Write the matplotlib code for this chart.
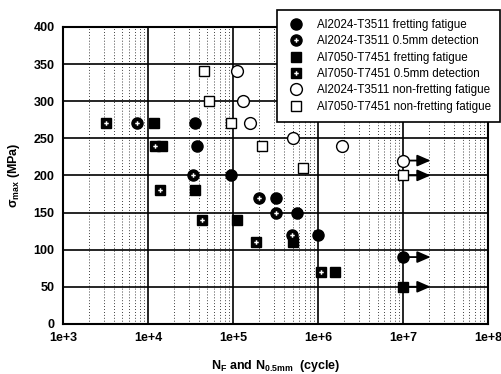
import numpy as np
import matplotlib
matplotlib.use("Agg")
import matplotlib.pyplot as plt
from matplotlib.legend_handler import HandlerTuple
from matplotlib.ticker import LogLocator, FixedLocator

plt.rcParams["font.family"] = ["Liberation Sans", "DejaVu Sans"]
plt.rcParams["mathtext.fontset"] = "custom"
plt.rcParams["mathtext.bf"] = "Liberation Sans:bold"
plt.rcParams["mathtext.rm"] = "Liberation Sans:bold"
plt.rcParams["mathtext.it"] = "Liberation Sans:bold"
plt.rcParams["mathtext.default"] = "bf"

# ----------------------------------------------------------------------------
# data (cycles, MPa)
# ----------------------------------------------------------------------------
al2024_ff_N = [3.6e4, 3.8e4, 9.5e4, 3.2e5, 5.7e5, 1.0e6, 1.0e7]
al2024_ff_S = [270, 240, 200, 170, 150, 120, 90]
al2024_det_N = [7.4e3, 3.4e4, 2.0e5, 3.2e5, 4.9e5]
al2024_det_S = [270, 200, 170, 150, 120]
al7050_ff_N = [1.17e4, 1.45e4, 3.6e4, 1.1e5, 5.0e5, 1.6e6, 1.0e7]
al7050_ff_S = [270, 240, 180, 140, 110, 70, 50]
al7050_det_N = [3.2e3, 1.2e4, 1.38e4, 4.3e4, 1.85e5, 1.07e6]
al7050_det_S = [270, 240, 180, 140, 110, 70]
al2024_nf_N = [1.1e5, 1.3e5, 1.56e5, 5.0e5, 1.9e6, 1.0e7]
al2024_nf_S = [340, 300, 270, 250, 240, 220]
al7050_nf_N = [4.6e4, 5.2e4, 9.4e4, 2.2e5, 6.6e5, 1.0e7]
al7050_nf_S = [340, 300, 270, 240, 210, 200]

# run-outs (arrows)
runout_N = 1.0e7
runout_end_N = 2.1e7
runout_S = [220, 200, 90, 50]

labels = ["Al2024-T3511 fretting fatigue", "Al2024-T3511 0.5mm detection",
          "Al7050-T7451 fretting fatigue", "Al7050-T7451 0.5mm detection",
          "Al2024-T3511 non-fretting fatigue", "Al7050-T7451 non-fretting fatigue"]

fig = plt.figure(figsize=(5.02, 3.74), dpi=100)
ax = fig.add_axes([0.1255, 0.134, 0.847, 0.794])
ax.set_xscale("log")
ax.set_xlim(1e3, 1e8)
ax.set_ylim(0, 400)

# grid
ax.xaxis.set_minor_locator(LogLocator(base=10, subs=np.arange(2, 10)))
ax.yaxis.set_major_locator(FixedLocator(np.arange(0, 401, 50)))
ax.grid(True, which="major", color="black", lw=1.2, zorder=1)
ax.grid(True, which="minor", axis="x", color="black", lw=0.6, ls=(0, (1, 2.5)), zorder=1)
ax.tick_params(which="both", length=0)
ax.tick_params(labelsize=9, pad=6)
ax.set_xticks([1e3, 1e4, 1e5, 1e6, 1e7, 1e8])
ax.set_xticklabels(["1e+3", "1e+4", "1e+5", "1e+6", "1e+7", "1e+8"], fontweight="bold")
for t in ax.get_yticklabels():
    t.set_fontweight("bold")
for s in ax.spines.values():
    s.set_linewidth(1.5)

# run-out arrows
for s in runout_S:
    ax.annotate("", xy=(runout_end_N, s), xytext=(runout_N, s),
                arrowprops=dict(arrowstyle="-|>,head_length=0.8,head_width=0.35",
                                color="black", lw=1.3, shrinkA=0, shrinkB=0), zorder=3)

ms_c, ms_s = 8, 7.5
kw = dict(ls="none", zorder=5)
h1, = ax.plot(al2024_ff_N, al2024_ff_S, "o", ms=ms_c, mfc="black", mec="black", **kw)
h2a, = ax.plot(al2024_det_N, al2024_det_S, "o", ms=ms_c, mfc="black", mec="black", **kw)
h2b, = ax.plot(al2024_det_N, al2024_det_S, "P", ms=3.2, mfc="white", mec="white", mew=0, ls="none", zorder=6)
h3, = ax.plot(al7050_ff_N, al7050_ff_S, "s", ms=ms_s, mfc="black", mec="black", **kw)
h4a, = ax.plot(al7050_det_N, al7050_det_S, "s", ms=ms_s, mfc="black", mec="black", **kw)
h4b, = ax.plot(al7050_det_N, al7050_det_S, "P", ms=3.2, mfc="white", mec="white", mew=0, ls="none", zorder=6)
h5, = ax.plot(al2024_nf_N, al2024_nf_S, "o", ms=ms_c + 0.5, mfc="white", mec="black", mew=1.0, **kw)
h6, = ax.plot(al7050_nf_N, al7050_nf_S, "s", ms=ms_s, mfc="white", mec="black", mew=1.0, **kw)

leg = ax.legend([h1, (h2a, h2b), h3, (h4a, h4b), h5, h6], labels,
                handler_map={tuple: HandlerTuple(ndivide=1, pad=0)},
                loc="upper left", bbox_to_anchor=(0.503, 1.057), fontsize=8.4,
                frameon=True, fancybox=False, edgecolor="black", framealpha=1,
                handlelength=1.8, handletextpad=0.9, labelspacing=0.38,
                borderpad=0.75, borderaxespad=0)
leg.get_frame().set_linewidth(1.2)
leg.set_zorder(10)
leg.set_clip_on(False)

ax.set_ylabel(r"$\sigma_{max}$ (MPa)", fontsize=9, fontweight="bold", labelpad=8)
ax.set_xlabel(r"$N_F$ and $N_{0.5mm}$  (cycle)", fontsize=9, fontweight="bold", labelpad=10)

fig.savefig("out.png", dpi=100)
